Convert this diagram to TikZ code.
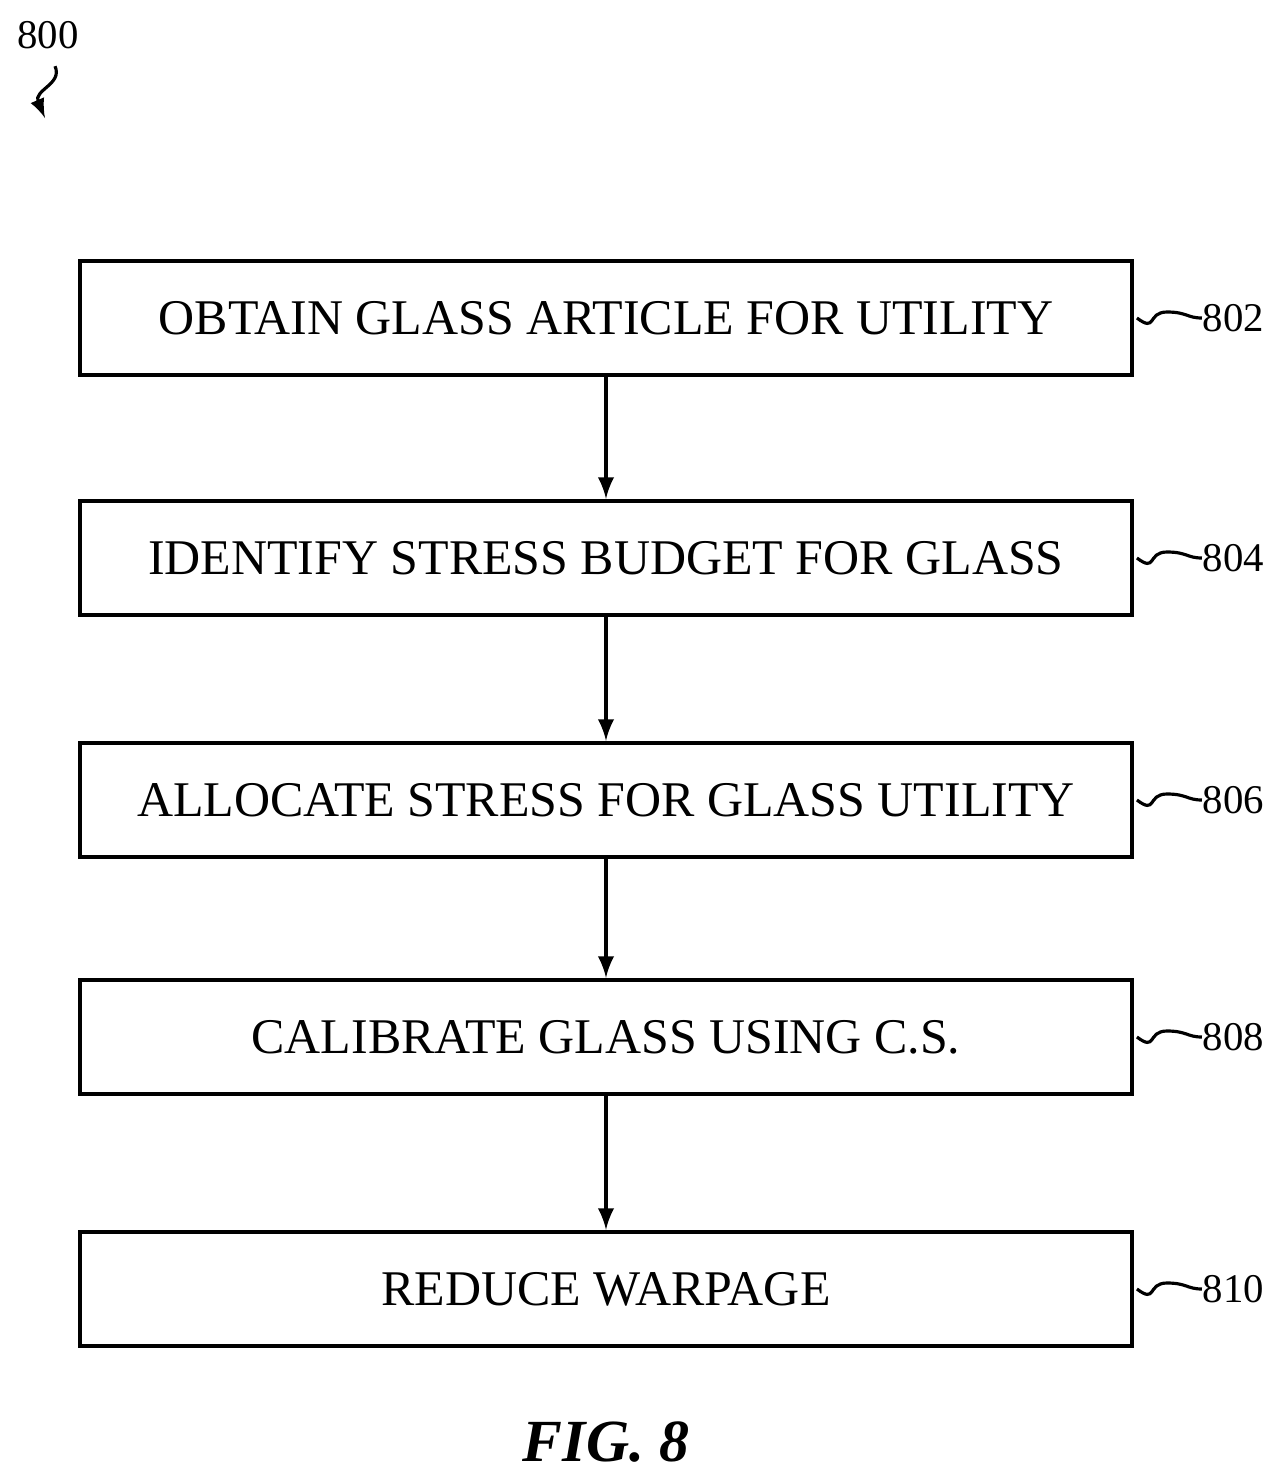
\documentclass[tikz,border=0pt]{standalone}
\usepackage{fontspec}
\setmainfont{Liberation Serif}
\usetikzlibrary{positioning}
\tikzset{
	stepbox/.style = {draw, line width=1.2pt, minimum width=10.51cm, minimum height=1.14cm, inner sep=0pt, font=\fontsize{14.2}{16}\selectfont},
	flow/.style = {-latex, line width=1.1pt},
	tag/.style = {font=\fontsize{11.6}{13}\selectfont, anchor=west, inner sep=0pt}
}
\begin{document}
\begin{tikzpicture}[x=0.01cm, y=-0.01cm]
	\useasboundingbox (0,0) rectangle (1282,1484);
	\node (s802) at (606,318) [stepbox] {OBTAIN GLASS ARTICLE FOR UTILITY};
	\node (s804) at (606,558) [stepbox] {IDENTIFY STRESS BUDGET FOR GLASS};
	\node (s806) at (606,800) [stepbox] {ALLOCATE STRESS FOR GLASS UTILITY};
	\node (s808) at (606,1037) [stepbox] {CALIBRATE GLASS USING C.S.};
	\node (s810) at (606,1289) [stepbox] {REDUCE WARPAGE};
	\draw[flow] (s802) -- (s804);
	\draw[flow] (s804) -- (s806);
	\draw[flow] (s806) -- (s808);
	\draw[flow] (s808) -- (s810);
	\foreach \n in {802,804,806,808,810} {
		\node (t\n) [tag, right=0.68cm of s\n.east] {\n};
		\draw[line width=0.9pt] (s\n.east) ++(0.03cm,0) .. controls +(0.2cm,-0.15cm) and +(-0.2cm,0) .. ++(0.3cm,0.06cm) .. controls +(0.2cm,0) and +(-0.15cm,0) .. (t\n.west);
	}
	\node (n800) at (48,35) [font=\fontsize{11.6}{13}\selectfont] {800};
	\coordinate (a800) at (45,118);
	\draw[-latex, line width=0.9pt] (n800.south) ++(7,5) .. controls +(8,18) and +(-12,-28) .. (a800);
	\node (fig) at (606,1442) [font=\fontsize{17}{19}\selectfont\bfseries\itshape] {FIG. 8};
\end{tikzpicture}
\end{document}
